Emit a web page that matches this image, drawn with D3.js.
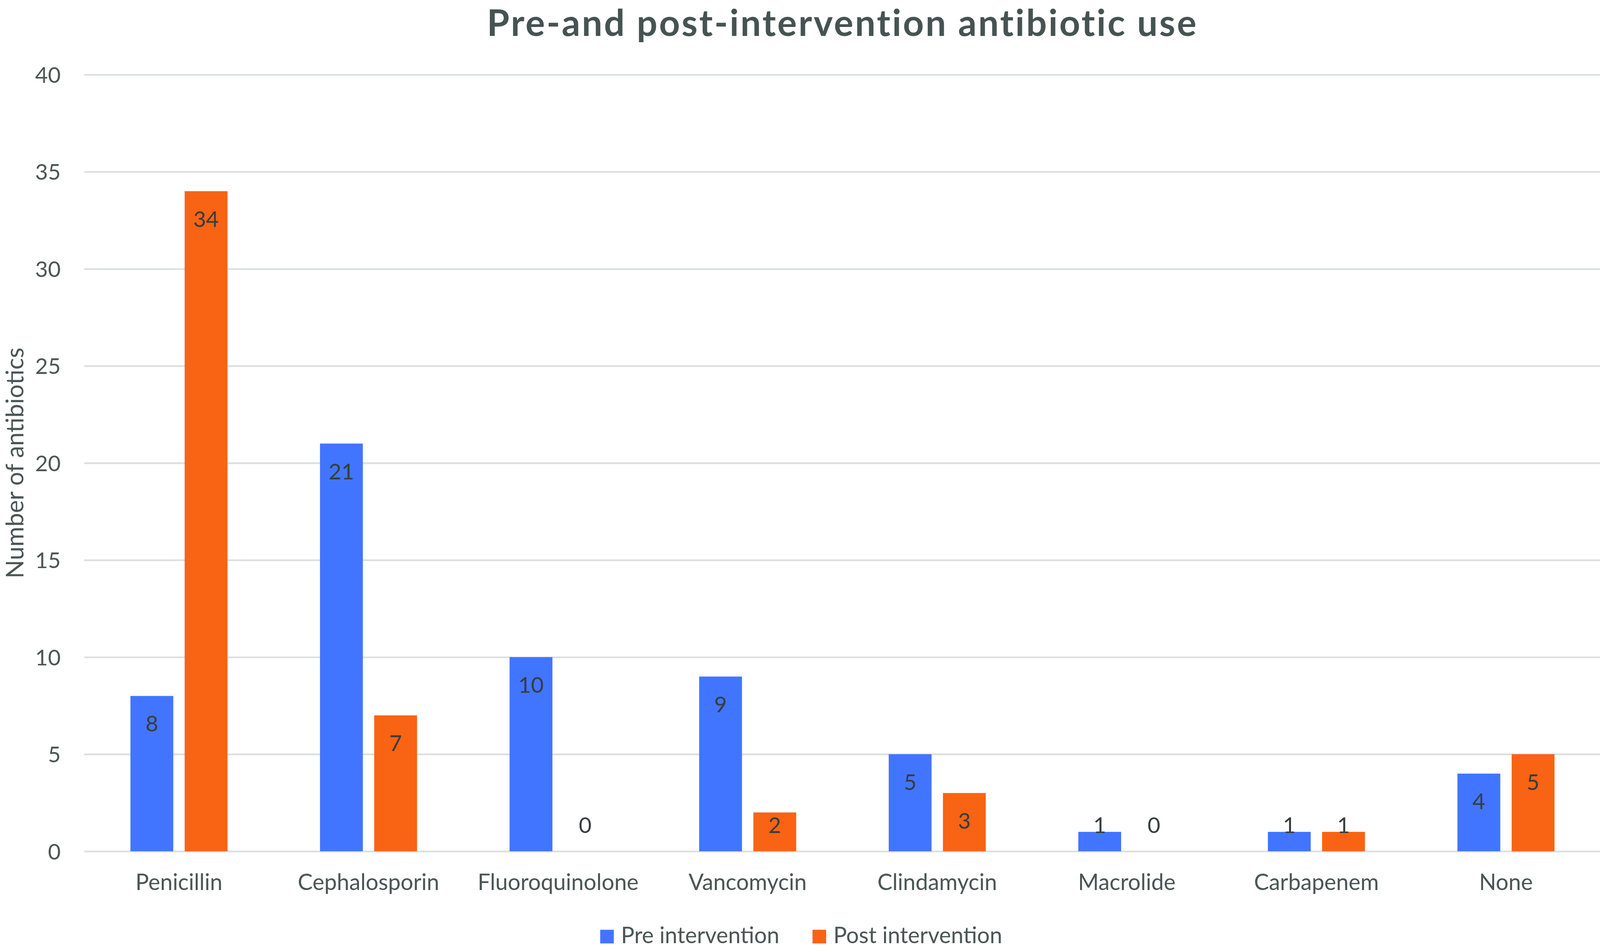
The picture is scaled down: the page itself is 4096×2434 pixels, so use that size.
<!DOCTYPE html>
<html>
<head>
<meta charset="utf-8">
<script src="https://cdn.jsdelivr.net/npm/d3@7"></script>
<style>
  html, body { margin: 0; padding: 0; background: #ffffff; }
  svg { display: block; }
</style>
</head>
<body>
<svg id="chart" width="4096" height="2434" viewBox="0 0 4220 2508" preserveAspectRatio="none"></svg>
<script>
const categories = ["Penicillin", "Cephalosporin", "Fluoroquinolone", "Vancomycin", "Clindamycin", "Macrolide", "Carbapenem", "None"];
const seriesNames = ["Pre intervention", "Post intervention"];
const preValues = [8, 21, 10, 9, 5, 1, 1, 4];
const postValues = [34, 7, 0, 2, 3, 0, 1, 5];
const yTicks = [0, 5, 10, 15, 20, 25, 30, 35, 40];
const titleText = "Pre-and post-intervention antibiotic use";
const yTitleText = "Number of antibiotics";

(function () {
const colors = { "Pre intervention": "#4275ff", "Post intervention": "#f96314" };
const font = "Lato, 'Open Sans', sans-serif";
const textColor = "#4a5654";
const labelColor = "#363d3d";

const svg = d3.select("#chart");
const plotLeft = 222, plotRight = 4222, plotTop = 197, plotBottom = 2245;

const x0 = d3.scaleBand().domain(categories).range([plotLeft, plotRight]).paddingInner(0.488).paddingOuter(0.244);
const x1 = d3.scaleBand().domain(seriesNames).range([0, x0.bandwidth()]).paddingInner(0.21).paddingOuter(0);
const y = d3.scaleLinear().domain([0, 40]).range([plotBottom, plotTop]);

// Y axis with gridlines
const yAxis = svg.append("g")
  .attr("transform", `translate(${plotLeft},0)`)
  .call(d3.axisLeft(y).tickValues(yTicks).tickSize(-(4220 - plotLeft)).tickPadding(62));
yAxis.select(".domain").remove();
yAxis.selectAll(".tick line").attr("stroke", "#dcdfdf").attr("stroke-width", 4.5);
yAxis.selectAll(".tick text")
  .attr("fill", textColor).attr("font-family", font).attr("font-size", 58)
  .attr("dy", "0.36em");

// Bars
const data = categories.map((c, i) => ({ cat: c, values: [
  { series: seriesNames[0], value: preValues[i] },
  { series: seriesNames[1], value: postValues[i] }
]}));

const groups = svg.append("g").selectAll("g").data(data).join("g")
  .attr("transform", d => `translate(${x0(d.cat)},0)`);

groups.selectAll("rect").data(d => d.values).join("rect")
  .attr("x", d => x1(d.series))
  .attr("width", x1.bandwidth())
  .attr("y", d => y(d.value))
  .attr("height", d => y(0) - y(d.value))
  .attr("fill", d => colors[d.series]);

groups.selectAll("text").data(d => d.values).join("text")
  .attr("x", d => x1(d.series) + x1.bandwidth() / 2)
  .attr("y", d => Math.min(y(d.value) + 94, 2197))
  .attr("text-anchor", "middle")
  .attr("font-family", font).attr("font-size", 58)
  .attr("fill", labelColor)
  .text(d => d.value);

// X axis labels
const xAxis = svg.append("g")
  .attr("transform", `translate(0,${plotBottom})`)
  .call(d3.axisBottom(x0).tickSize(0));
xAxis.select(".domain").remove();
xAxis.selectAll(".tick text")
  .attr("y", 102).attr("dy", null)
  .attr("fill", textColor).attr("font-family", font).attr("font-size", 59);

// Title
svg.append("text")
  .attr("x", (plotLeft + plotRight) / 2).attr("y", 95)
  .attr("text-anchor", "middle")
  .attr("font-family", font).attr("font-weight", "bold").attr("font-size", 96)
  .attr("letter-spacing", 4.3)
  .attr("fill", "#465352")
  .text(titleText);

// Y axis title
svg.append("text")
  .attr("transform", `translate(62,${(plotTop + plotBottom) / 2}) rotate(-90)`)
  .attr("text-anchor", "middle")
  .attr("font-family", font).attr("font-size", 64)
  .attr("fill", textColor)
  .text(yTitleText);

// Legend
const legendItems = [
  { name: seriesNames[0], sx: 1583, tx: 1638 },
  { name: seriesNames[1], sx: 2143, tx: 2198 }
];
const legend = svg.append("g");
legend.selectAll("rect").data(legendItems).join("rect")
  .attr("x", d => d.sx).attr("y", 2452).attr("width", 36).attr("height", 36)
  .attr("fill", d => colors[d.name]);
legend.selectAll("text").data(legendItems).join("text")
  .attr("x", d => d.tx).attr("y", 2487)
  .attr("font-family", font).attr("font-size", 59)
  .attr("fill", textColor)
  .text(d => d.name);
})();
</script>
</body>
</html>
